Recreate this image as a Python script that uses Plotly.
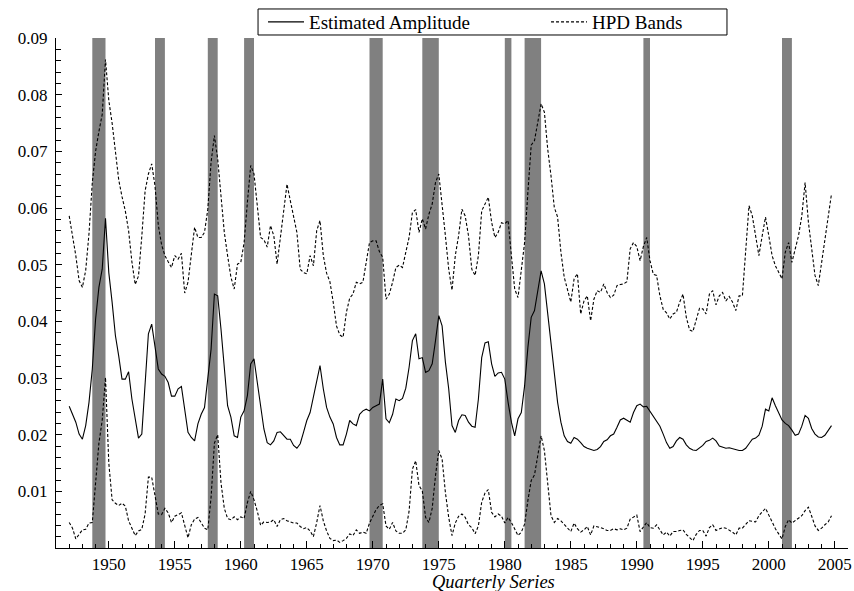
import numpy as np
import plotly.graph_objects as go

# Quarterly observations 1947Q1 .. 2004Q4 (232 quarters)
first_year = 1947
n_quarters = 232
quarters = first_year + np.arange(n_quarters) / 4.0

# Estimated amplitude (values in thousandths)
amplitude_x1000 = [
    25.0, 23.6, 22.2, 20.1, 19.2, 21.6, 25.7, 31.6, 40.4, 46.0, 49.2, 58.2, 48.6, 43.4, 37.5, 33.9, 29.8, 29.8,
    31.1, 26.3, 22.8, 19.4, 20.1, 28.6, 37.8, 39.5, 35.4, 31.6, 30.7, 30.3, 29.2, 26.8, 26.8, 28.1, 28.5, 24.5,
    20.4, 19.5, 18.9, 21.9, 23.6, 24.8, 29.8, 35.1, 44.8, 44.5, 38.6, 31.6, 25.1, 23.1, 19.8, 19.5, 23.1, 24.2,
    26.9, 32.5, 33.4, 29.2, 24.8, 21.0, 18.6, 18.2, 18.9, 20.4, 20.5, 19.9, 19.2, 19.2, 18.1, 17.6, 18.4, 20.4,
    22.5, 23.9, 26.6, 29.5, 32.2, 28.1, 24.8, 23.1, 21.9, 19.5, 18.2, 18.2, 20.1, 22.5, 21.9, 21.6, 23.6, 24.2,
    24.5, 24.2, 24.8, 25.1, 25.4, 29.8, 22.8, 22.1, 23.6, 26.3, 26.0, 26.4, 28.2, 31.9, 36.6, 37.8, 33.4, 33.6,
    31.0, 31.3, 32.5,
    36.6, 41.0, 39.2, 32.8, 28.1, 21.6, 20.4, 22.5, 23.5, 23.4, 22.2, 21.5, 21.3, 26.3, 33.6, 36.2, 36.4, 32.5,
    30.3, 30.9, 31.0, 29.8, 25.7, 22.2, 19.8, 22.8, 23.9, 28.6, 35.4, 40.7, 41.9, 45.2, 48.9, 46.6, 41.3, 35.4,
    30.4,
    25.7, 22.2, 19.8, 18.8, 18.5, 19.5, 19.2, 18.6, 17.9, 17.6, 17.4, 17.2, 17.4, 17.9, 18.8, 19.1, 19.8, 20.1,
    21.3, 22.6, 22.9, 22.6, 22.2, 23.9, 25.1, 25.4, 24.9, 25.0, 24.1, 23.2, 22.5, 21.5, 20.1, 18.6, 17.6, 17.9,
    18.9, 19.5,
    19.2, 18.2, 17.6, 17.3, 17.2, 17.6, 18.1, 18.8, 19.0, 19.4, 18.9, 18.0, 17.8, 17.6, 17.7, 17.5, 17.4, 17.2,
    17.2, 17.6, 18.4, 19.2, 19.4, 19.9, 21.5, 24.5, 24.2, 26.5, 25.1, 23.9, 22.6, 22.0, 21.6, 20.8, 19.9, 20.1,
    21.5, 23.4, 22.9, 21.1, 20.1, 19.6, 19.5, 19.9, 20.8, 21.6,
]

# Upper HPD band (thousandths)
hpd_upper_x1000 = [
    58.6, 55.1, 51.6, 47.2, 46.0, 49.0, 55.5, 64.5, 70.0, 73.5, 76.5, 86.2, 79.0, 75.0, 70.0, 65.0, 62.0, 59.5,
    56.0, 50.5, 46.5, 48.0, 55.0, 63.0, 66.0, 67.8, 63.9, 57.0, 53.5, 51.6, 50.5, 49.5, 51.6, 51.0, 52.0, 45.0,
    46.9, 51.3, 56.6, 54.8, 54.8, 55.7, 59.8, 68.1, 72.8, 68.6, 61.6, 55.7, 51.6, 47.8, 45.7, 50.1, 50.4, 53.9,
    61.0, 67.5, 66.0, 60.4, 54.8, 54.4, 53.1, 56.9, 55.1, 50.1, 54.5, 59.8, 64.2, 61.3, 58.6, 55.7, 49.2, 48.6,
    48.4, 51.6, 49.8, 56.0, 57.8, 51.6, 48.5, 47.0, 43.4, 39.2, 37.6, 37.2, 41.6, 44.1, 44.8, 46.9, 46.6, 46.9,
    50.4, 53.9, 54.2, 54.2, 52.3, 51.3, 43.9, 44.8, 46.9, 49.5, 49.9, 49.5, 52.2, 54.8, 59.2, 59.7, 55.7, 58.1,
    56.3, 58.9, 60.7,
    64.5, 66.0, 61.0, 55.1, 49.2, 45.5, 51.6, 55.1, 59.8, 58.6, 55.1, 49.2, 48.1, 51.6, 59.5, 60.7, 61.9, 57.5,
    54.8, 55.7, 57.4, 57.2, 57.8, 51.6, 45.7, 44.2, 49.2, 53.9, 62.8, 71.1, 71.9, 75.4, 78.4, 76.9, 70.4, 65.7,
    60.1,
    58.4, 52.2, 47.8, 45.4, 43.4, 47.5, 48.4, 41.3, 43.6, 44.5, 40.1, 43.9, 45.4, 45.1, 46.6, 45.1, 44.2, 44.6,
    46.3, 46.5, 46.6, 47.0, 52.8, 53.9, 53.2, 50.7, 53.2, 54.8, 50.7, 48.3, 48.1, 44.5, 42.1, 41.5, 40.4, 41.3,
    41.6, 43.4,
    44.8, 40.7, 38.5, 38.2, 40.4, 42.3, 42.2, 41.3, 44.8, 45.4, 42.9, 44.5, 45.1, 43.6, 44.4, 43.4, 41.9, 44.5,
    44.5, 52.2, 60.4, 58.6, 55.1, 51.6, 55.1, 58.4, 55.1, 51.6, 49.8, 48.6, 47.5, 52.2, 53.9, 50.4, 52.8, 55.1,
    58.6, 64.5, 57.5, 52.8, 48.1, 46.3, 50.4, 55.1, 58.6, 62.5,
]

# Lower HPD band (thousandths)
hpd_lower_x1000 = [
    4.5, 3.5, 1.6, 2.5, 3.2, 3.3, 4.4, 4.5, 11.0, 18.5, 22.5, 30.1, 15.0, 8.5, 7.9, 7.5, 7.9, 7.4,
    4.8, 3.5, 2.2, 3.0, 3.3, 6.0, 12.5, 12.5, 9.2, 6.0, 5.9, 7.0, 6.2, 4.5, 5.6, 5.9, 6.2, 4.0,
    1.8, 4.1, 5.1, 5.4, 4.4, 3.5, 3.2, 9.0, 18.5, 20.0, 11.5, 7.0, 5.2, 5.0, 5.5, 5.0, 5.5, 5.2,
    8.0, 10.0, 8.5, 6.5, 4.0, 4.6, 4.5, 4.6, 5.0, 3.8, 5.0, 5.2, 4.8, 4.6, 4.4, 4.4, 3.8, 3.4,
    3.6, 3.0, 2.0, 4.5, 7.5, 4.8, 3.0, 1.7, 1.3, 1.4, 1.0, 1.3, 1.7, 2.5, 2.2, 3.2, 2.6, 2.8,
    2.6, 4.4, 5.7, 6.8, 7.5, 7.8, 3.9, 3.3, 4.5, 3.0, 2.6, 2.6, 3.2, 6.5, 13.9, 15.4, 11.0, 10.1,
    5.4, 4.5, 7.0,
    12.8, 17.2, 15.7, 9.8, 5.4, 2.2, 4.4, 5.6, 6.0, 5.4, 4.1, 3.6, 2.5, 3.9, 8.1, 9.7, 10.3, 6.3,
    5.5, 6.0, 5.6, 4.4, 5.4, 4.5, 3.4, 2.2, 2.8, 4.2, 8.4, 11.9, 12.9, 16.4, 19.8, 17.2, 11.6, 5.7,
    4.5,
    5.2, 4.8, 4.1, 3.4, 2.9, 4.4, 3.4, 2.8, 3.2, 3.8, 2.3, 3.9, 3.8, 3.6, 3.4, 3.1, 3.1, 3.4,
    3.2, 3.4, 3.2, 3.5, 5.1, 5.4, 5.8, 2.9, 3.6, 4.5, 3.6, 3.5, 4.1, 3.2, 2.3, 2.8, 2.1, 2.9,
    2.9, 3.1,
    3.2, 2.4, 1.8, 1.3, 2.4, 3.1, 3.1, 2.1, 3.6, 4.1, 3.1, 3.4, 3.6, 3.5, 3.2, 2.8, 2.3, 3.5,
    3.5, 4.2, 4.8, 4.7, 4.6, 5.7, 6.3, 7.0, 5.8, 4.5, 3.4, 2.5, 1.6, 3.8, 5.0, 4.4, 4.8, 5.2,
    5.7, 6.6, 7.2, 5.6, 3.9, 3.1, 3.5, 4.1, 4.6, 5.7,
]

# NBER recessions (peak, trough) in fractional years
recession_start = [1948.75, 1953.5, 1957.5, 1960.25, 1969.75, 1973.75, 1980.0, 1981.5, 1990.5, 2001.0]
recession_end = [1949.75, 1954.25, 1958.25, 1961.0, 1970.75, 1975.0, 1980.5, 1982.75, 1991.0, 2001.75]

x_tick_vals = [1950, 1955, 1960, 1965, 1970, 1975, 1980, 1985, 1990, 1995, 2000, 2005]
y_tick_vals = [0.01, 0.02, 0.03, 0.04, 0.05, 0.06, 0.07, 0.08, 0.09]

amplitude = [v / 1000 for v in amplitude_x1000]
hpd_upper = [v / 1000 for v in hpd_upper_x1000]
hpd_lower = [v / 1000 for v in hpd_lower_x1000]

SERIF = "Liberation Serif"
DASH = "3px,2px"

fig = go.Figure()
fig.add_trace(go.Scatter(x=quarters, y=amplitude, mode="lines", name="Estimated Amplitude",
                         line=dict(color="black", width=1.1)))
fig.add_trace(go.Scatter(x=quarters, y=hpd_upper, mode="lines", name="HPD Bands", legendgroup="hpd",
                         line=dict(color="black", width=1.1, dash=DASH)))
fig.add_trace(go.Scatter(x=quarters, y=hpd_lower, mode="lines", name="HPD Bands", legendgroup="hpd",
                         showlegend=False, line=dict(color="black", width=1.1, dash=DASH)))

shapes = []
for s, e in zip(recession_start, recession_end):
    shapes.append(dict(type="rect", xref="x", yref="paper", x0=s, x1=e, y0=0, y1=1,
                       fillcolor="#808080", line=dict(width=0), layer="below"))
# legend frame
shapes.append(dict(type="rect", xref="paper", yref="paper", x0=0.2551, x1=0.8472, y0=1.0059, y1=1.0569,
                   line=dict(color="black", width=1), fillcolor="white", layer="below"))

fig.update_layout(
    width=854, height=591,
    margin=dict(l=56, r=6, t=38, b=43, autoexpand=False),
    paper_bgcolor="white", plot_bgcolor="white",
    font=dict(family=SERIF, size=17, color="black"),
    showlegend=True,
    legend=dict(orientation="h", x=0.2614, xanchor="left", y=1.0314, yanchor="middle",
                bgcolor="rgba(0,0,0,0)", borderwidth=0, font=dict(family=SERIF, size=19, color="black"),
                itemwidth=36, entrywidth=232, entrywidthmode="pixels", tracegroupgap=0),
    shapes=shapes,
    annotations=[dict(text="<i>Quarterly Series</i>", xref="paper", yref="paper", x=0.5518, y=-0.0667,
                      xanchor="center", yanchor="middle", showarrow=False,
                      font=dict(family=SERIF, size=18.5, color="black"))],
)

fig.update_xaxes(range=[1946, 2006], showgrid=False, zeroline=False, showline=True, linecolor="black",
                 linewidth=1.2, ticks="inside", ticklen=7, tickwidth=1, tickcolor="black",
                 tickvals=x_tick_vals, tickfont=dict(family=SERIF, size=17, color="black"),
                 minor=dict(dtick=1, tick0=1946, ticks="inside", ticklen=4, tickcolor="black", showgrid=False),
                 automargin=False)
fig.update_yaxes(range=[0, 0.09], showgrid=False, zeroline=False, showline=True, linecolor="black",
                 linewidth=1.2, ticks="inside", ticklen=6, tickwidth=1, tickcolor="black",
                 tickvals=y_tick_vals, tickformat=".2f", tickfont=dict(family=SERIF, size=17, color="black"),
                 ticklabelstandoff=4,
                 minor=dict(dtick=0.002, tick0=0, ticks="inside", ticklen=5, tickcolor="black", showgrid=False),
                 automargin=False)

fig.write_html("out.html", config={"displayModeBar": False},
               post_script="document.body.style.margin='0';document.body.style.padding='0';")
